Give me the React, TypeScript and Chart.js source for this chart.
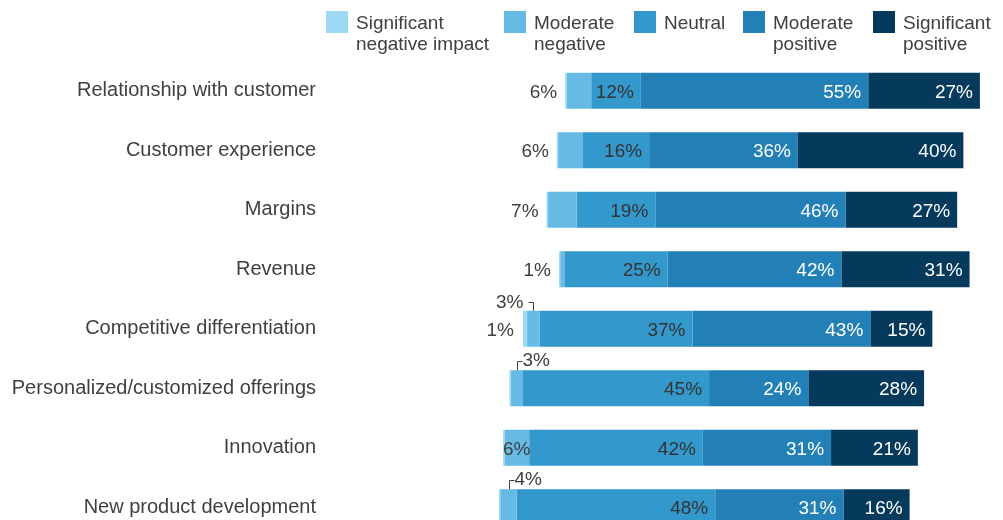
import React, { useEffect, useRef } from 'react';
import { Chart, registerables } from 'chart.js';

Chart.register(...registerables);

const categories = [
  'Relationship with customer',
  'Customer experience',
  'Margins',
  'Revenue',
  'Competitive differentiation',
  'Personalized/customized offerings',
  'Innovation',
  'New product development',
];

const significantNegative = [0.3, 0.3, 0.3, 0.3, 1, 0.3, 0.3, 0.3];
const moderateNegative = [6, 6, 7, 1, 3, 3, 6, 4];
const neutral = [12, 16, 19, 25, 37, 45, 42, 48];
const moderatePositive = [55, 36, 46, 42, 43, 24, 31, 31];
const significantPositive = [27, 40, 27, 31, 15, 28, 21, 16];

const seriesNames = [
  ['Significant', 'negative impact'],
  ['Moderate', 'negative'],
  ['Neutral'],
  ['Moderate', 'positive'],
  ['Significant', 'positive'],
];

const seriesColors = ['#9dd9f3', '#66bae3', '#3399cc', '#2380b6', '#053a5c'];
const labelColors = ['#404040', '#404040', '#333333', '#ffffff', '#ffffff'];

// how the "moderate negative" value label is placed for each category
const moderateNegativeLabelMode = [
  'outside', 'outside', 'outside', 'outside', 'bracketLeft', 'bracketRight', 'inside', 'bracketRight',
];

// legend layout (box left edges)
const legendBoxX = [326, 504, 634, 743, 873];

const FONT_FAMILY = '"Liberation Sans", Arial, Helvetica, sans-serif';
const TEXT_COLOR = '#404040';

const seriesValues = [
  significantNegative,
  moderateNegative,
  neutral,
  moderatePositive,
  significantPositive,
];

// diverging layout: centred on the middle of the neutral segment
const segmentRanges = categories.map((_, i) => {
  const nl = -neutral[i] / 2;
  const nr = neutral[i] / 2;
  const mnl = nl - moderateNegative[i];
  const snl = mnl - significantNegative[i];
  const mpr = nr + moderatePositive[i];
  const spr = mpr + significantPositive[i];
  return [
    [snl, mnl],
    [mnl, nl],
    [nl, nr],
    [nr, mpr],
    [mpr, spr],
  ];
});

const labelsPlugin = {
  id: 'customLabels',
  afterDatasetsDraw(chart: any) {
    const ctx = chart.ctx as CanvasRenderingContext2D;
    ctx.save();
    const fs = 19;
    ctx.font = `${fs}px ${FONT_FAMILY}`;
    ctx.textBaseline = 'alphabetic';
    const yOff = Math.round(fs * 0.36);
    for (let s = 0; s < seriesValues.length; s++) {
      const meta = chart.getDatasetMeta(s);
      meta.data.forEach((bar: any, i: number) => {
        const v = Math.round(seriesValues[s][i]);
        if (!v) return;
        const text = `${v}%`;
        const p = bar.getProps(['x', 'y', 'base', 'height'], true);
        const left = Math.min(p.x, p.base);
        const right = Math.max(p.x, p.base);
        const cy = p.y;
        const top = cy - p.height / 2;
        ctx.fillStyle = labelColors[s];
        if (s >= 2) {
          ctx.textAlign = 'right';
          ctx.fillText(text, right - 7, cy + yOff);
        } else if (s === 0) {
          ctx.textAlign = 'right';
          ctx.fillText(text, left - 9, cy + yOff);
        } else {
          const mode = moderateNegativeLabelMode[i];
          const barStart = chart.getDatasetMeta(0).data[i];
          const bp = barStart.getProps(['x', 'base'], true);
          const outerLeft = Math.min(bp.x, bp.base, left);
          const cx = (left + right) / 2;
          if (mode === 'outside') {
            ctx.textAlign = 'right';
            ctx.fillText(text, outerLeft - 8, cy + yOff);
          } else if (mode === 'inside') {
            ctx.textAlign = 'center';
            ctx.fillText(text, cx, cy + yOff);
          } else {
            const bx = Math.round(cx) + 0.5;
            const btop = Math.round(top - 9) + 0.5;
            ctx.strokeStyle = TEXT_COLOR;
            ctx.lineWidth = 1;
            ctx.beginPath();
            if (mode === 'bracketLeft') {
              ctx.moveTo(bx - 5, btop);
              ctx.lineTo(bx, btop);
              ctx.lineTo(bx, top);
              ctx.stroke();
              ctx.textAlign = 'right';
              ctx.fillText(text, bx - 10, top - 3);
            } else {
              ctx.moveTo(bx, top);
              ctx.lineTo(bx, btop);
              ctx.lineTo(bx + 5, btop);
              ctx.stroke();
              ctx.textAlign = 'left';
              ctx.fillText(text, bx + 5, top - 4);
            }
          }
        }
      });
    }
    ctx.restore();
  },
};

const legendPlugin = {
  id: 'customLegend',
  afterDraw(chart: any) {
    const ctx = chart.ctx as CanvasRenderingContext2D;
    ctx.save();
    ctx.font = `19px ${FONT_FAMILY}`;
    ctx.textBaseline = 'alphabetic';
    ctx.textAlign = 'left';
    const box = 22;
    seriesNames.forEach((lines, s) => {
      const x = legendBoxX[s];
      ctx.fillStyle = seriesColors[s];
      ctx.fillRect(x, 11, box, box);
      ctx.fillStyle = TEXT_COLOR;
      lines.forEach((ln, k) => {
        ctx.fillText(ln, x + 30, 29 + k * 21);
      });
    });
    ctx.restore();
  },
};

export default function App() {
  const ref = useRef<HTMLCanvasElement | null>(null);
  useEffect(() => {
    if (!ref.current) return;
    const chart = new Chart(ref.current, {
      type: 'bar',
      data: {
        labels: categories,
        datasets: seriesNames.map((name, s) => ({
          label: name.join(' '),
          data: segmentRanges.map((r) => r[s]) as any,
          backgroundColor: seriesColors[s],
          borderWidth: 0,
          borderSkipped: false,
          grouped: false,
          barPercentage: 0.606,
          categoryPercentage: 1,
        })),
      },
      options: {
        indexAxis: 'y',
        responsive: false,
        maintainAspectRatio: false,
        animation: false,
        layout: { padding: { top: 61, bottom: 3, right: 3, left: 0 } },
        scales: {
          x: { display: false, min: -69.17, max: 92.86 },
          y: {
            grid: { display: false, drawTicks: false },
            border: { display: false },
            ticks: {
              padding: 14,
              color: TEXT_COLOR,
              font: { size: 20, family: FONT_FAMILY },
            },
            afterFit: (scale: any) => {
              scale.width = 330;
              scale.paddingTop = 0;
              scale.paddingBottom = 0;
            },
          },
        },
        plugins: {
          legend: { display: false },
          tooltip: { enabled: false },
        },
      },
      plugins: [labelsPlugin, legendPlugin],
    } as any);
    return () => chart.destroy();
  }, []);
  return (
    <div
      style={{
        position: 'fixed',
        left: 0,
        top: 0,
        width: 1003,
        height: 520,
        overflow: 'hidden',
        background: '#ffffff',
      }}
    >
      <canvas ref={ref} width={1003} height={540} style={{ display: 'block' }} />
    </div>
  );
}
